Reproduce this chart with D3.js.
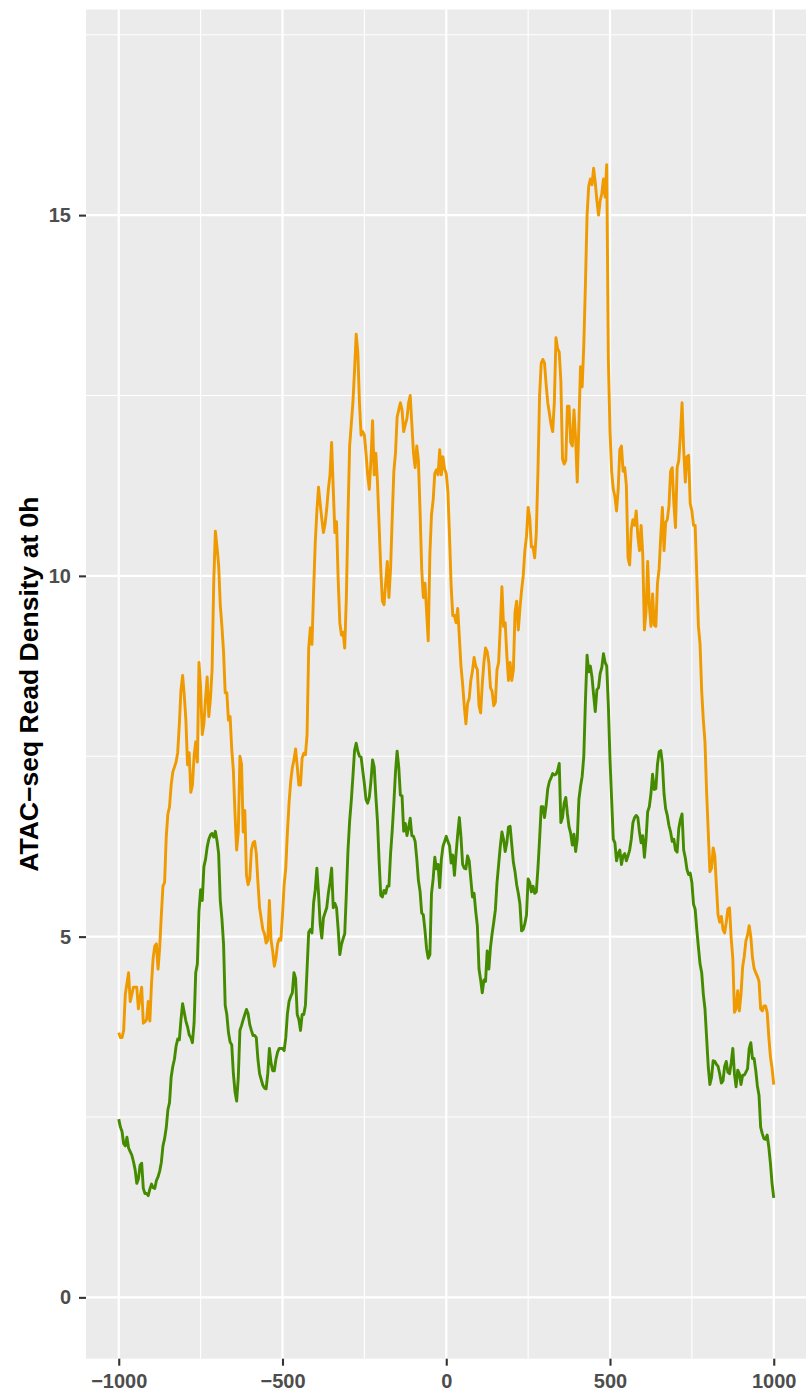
<!DOCTYPE html>
<html>
<head>
<meta charset="utf-8">
<script src="https://cdnjs.cloudflare.com/ajax/libs/d3/7.8.5/d3.min.js"></script>
<style>
  body { margin: 0; background: #fff; }
  text { font-family: "Liberation Sans", Arial, sans-serif; }
</style>
</head>
<body>
<div class="canvas"></div>
<script>
// positions along the x axis (bp from centre), one every 5
const positions = d3.range(-1000, 1001, 5);

// orange series (rows of 10, starting at -1000)
const orangeSeries = [
  3.67, 3.6, 3.6, 3.7, 4.2, 4.35, 4.5, 4.1, 4.2, 4.3,
  4.3, 4.3, 4.0, 4.15, 4.3, 3.8, 3.82, 3.85, 4.1, 3.83,
  4.35, 4.7, 4.87, 4.9, 4.55, 4.85, 5.3, 5.7, 5.75, 6.38,
  6.7, 6.8, 7.1, 7.28, 7.35, 7.42, 7.55, 7.95, 8.42, 8.62,
  8.35, 8.0, 7.38, 7.55, 7.0, 7.1, 7.5, 7.7, 7.42, 8.8,
  8.45, 7.8, 7.95, 8.3, 8.6, 8.05, 8.3, 8.7, 9.9, 10.62,
  10.4, 10.15, 9.6, 9.3, 8.95, 8.38, 8.38, 8.0, 8.05, 7.6,
  7.3, 6.7, 6.2, 6.45, 7.5, 7.39, 6.45, 6.75, 5.85, 5.72,
  5.8, 6.2, 6.3, 6.32, 6.15, 5.75, 5.4, 5.25, 5.1, 5.04,
  4.91, 4.95, 5.5, 4.95, 4.8, 4.59, 4.7, 4.9, 4.97, 4.95,
  5.3, 5.72, 5.95, 6.45, 6.85, 7.15, 7.34, 7.45, 7.6, 7.36,
  7.1, 7.1, 7.48, 7.54, 7.52, 7.8, 9.0, 9.28, 9.05, 9.8,
  10.46, 10.9, 11.23, 11.0, 10.79, 10.6, 10.72, 10.93, 11.2, 11.4,
  11.85, 11.2, 10.6, 10.75, 9.95, 9.35, 9.18, 9.22, 9.0, 9.7,
  10.85, 11.8, 12.1, 12.4, 12.85, 13.35, 13.1, 12.4, 11.95, 12.0,
  11.95, 11.7, 11.4, 11.2, 11.6, 12.15, 11.4, 11.7, 11.3, 10.7,
  10.1, 9.65, 9.6, 9.9, 10.2, 9.7, 10.1, 10.8, 11.45, 11.7,
  12.2, 12.3, 12.4, 12.3, 12.0, 12.1, 12.18, 12.4, 12.5, 12.1,
  11.7, 11.5, 11.8, 11.6, 10.9, 10.1, 9.7, 9.9, 9.5, 9.1,
  10.3, 10.85, 11.05, 11.42, 11.47, 11.4, 11.75, 11.4, 11.65, 11.48,
  11.42, 11.17, 10.55, 9.85, 9.45, 9.45, 9.35, 9.55, 9.15, 8.75,
  8.5, 8.2, 7.95, 8.23, 8.3, 8.55, 8.68, 8.87, 8.75, 8.7,
  8.2, 8.1, 8.5, 8.8, 9.0, 8.95, 8.8, 8.45, 8.4, 8.2,
  8.25, 8.7, 8.8, 9.3, 9.85, 9.3, 9.35, 8.9, 8.55, 8.8,
  8.55, 8.7, 9.5, 9.65, 9.25, 9.55, 9.8, 10.0, 10.35, 10.55,
  10.95, 10.8, 10.4, 10.4, 10.25, 10.6, 11.45, 12.5, 12.95, 13.0,
  12.95, 12.65, 12.4, 12.25, 12.1, 12.0, 12.4, 13.3, 13.15, 13.1,
  12.7, 11.62, 11.55, 11.6, 12.35, 12.35, 11.85, 11.8, 12.3, 11.9,
  11.3, 12.1, 12.9, 12.62, 13.2, 14.05, 15.0, 15.4, 15.5, 15.42,
  15.65, 15.45, 15.2, 15.0, 15.2, 15.3, 15.5, 15.25, 15.7, 13.0,
  12.0, 11.45, 11.2, 11.1, 10.9, 11.2, 11.75, 11.8, 11.45, 11.5,
  11.25, 10.25, 10.15, 10.65, 10.78, 10.7, 10.9, 10.55, 10.35, 10.7,
  10.3, 9.25, 9.5, 10.2, 9.6, 9.3, 9.75, 9.32, 9.3, 9.9,
  10.1, 10.55, 10.95, 10.35, 10.74, 10.78, 10.97, 11.45, 11.5, 11.0,
  10.67, 11.5, 11.6, 11.95, 12.4, 11.75, 11.3, 11.65, 11.67, 11.0,
  10.9, 10.7, 10.7, 10.0, 9.3, 9.05, 8.4, 8.0, 7.7, 7.0,
  6.45, 5.9, 5.95, 6.23, 6.12, 5.7, 5.3, 5.2, 5.28, 5.1,
  5.05, 5.2, 5.38, 5.4, 4.98, 4.7, 3.95, 4.0, 4.25, 3.97,
  4.2, 4.58, 4.73, 4.94, 5.02, 5.15, 5.0, 4.71, 4.56, 4.5,
  4.45, 4.38, 4.0, 3.97, 4.04, 4.04, 3.95, 3.6, 3.33, 3.17,
  2.95
];

// green series (rows of 10, starting at -1000)
const greenSeries = [
  2.47, 2.36, 2.3, 2.13, 2.1, 2.22, 2.07, 2.02, 1.97, 1.88,
  1.77, 1.58, 1.64, 1.83, 1.86, 1.51, 1.44, 1.44, 1.41, 1.5,
  1.57, 1.52, 1.51, 1.62, 1.67, 1.75, 1.87, 2.1, 2.2, 2.35,
  2.6, 2.7, 3.05, 3.2, 3.3, 3.48, 3.58, 3.57, 3.85, 4.07,
  3.95, 3.83, 3.75, 3.64, 3.6, 3.53, 3.8, 4.5, 4.62, 5.35,
  5.65, 5.5, 5.97, 6.07, 6.24, 6.35, 6.41, 6.43, 6.38, 6.46,
  6.33, 6.15, 5.5, 5.25, 4.9, 4.05, 3.92, 3.67, 3.54, 3.5,
  3.1, 2.85, 2.72, 3.05, 3.7, 3.77, 3.85, 3.92, 3.99, 3.93,
  3.78, 3.7, 3.63, 3.63, 3.6, 3.3, 3.1, 3.02, 2.94, 2.9,
  2.89, 3.1, 3.45, 3.25, 3.14, 3.14, 3.3, 3.4, 3.45, 3.45,
  3.45, 3.42, 3.6, 3.93, 4.1, 4.17, 4.22, 4.5, 4.42, 3.92,
  3.85, 3.7, 3.92, 3.92, 4.05, 4.55, 5.06, 5.1, 5.05, 5.47,
  5.65, 5.95, 5.6, 5.17, 4.98, 5.26, 5.33, 5.4, 5.6, 5.75,
  5.95, 5.4, 5.46, 5.4, 5.1, 4.75, 4.89, 4.97, 5.04, 5.6,
  6.2, 6.6, 6.88, 7.22, 7.58, 7.68, 7.57, 7.5, 7.49, 7.3,
  7.12, 6.9, 6.85, 6.93, 7.15, 7.45, 7.35, 6.95, 6.6, 6.05,
  5.57, 5.55, 5.64, 5.6, 5.7, 5.7, 6.15, 6.47, 6.85, 7.28,
  7.57, 7.35, 6.96, 6.95, 6.46, 6.57, 6.4, 6.51, 6.64, 6.4,
  6.39, 6.32, 6.08, 5.78, 5.63, 5.33, 5.3, 5.09, 4.83, 4.7,
  4.75, 5.6, 5.8, 6.1, 5.94, 6.0, 5.68, 6.07, 6.25, 6.32,
  6.39, 6.32, 6.26, 6.02, 6.13, 5.85, 6.15, 6.42, 6.65, 6.38,
  6.0, 5.95, 5.94, 6.12, 6.05, 5.8, 5.55, 5.6, 5.35, 5.15,
  4.55, 4.4, 4.22, 4.4, 4.38, 4.8, 4.55, 4.85, 5.04, 5.2,
  5.37, 5.75, 6.0, 6.25, 6.45, 6.35, 6.18, 6.3, 6.52, 6.53,
  6.28, 6.03, 5.9, 5.72, 5.6, 5.45, 5.08, 5.1, 5.18, 5.3,
  5.8, 5.75, 5.62, 5.7, 5.6, 5.62, 5.95, 6.35, 6.8, 6.8,
  6.65, 6.82, 7.05, 7.15, 7.2, 7.26, 7.24, 7.25, 7.3, 7.4,
  6.58, 6.65, 6.85, 6.93, 6.7, 6.52, 6.43, 6.27, 6.42, 6.18,
  6.35, 6.9, 7.08, 7.22, 7.5, 8.27, 8.9, 8.67, 8.75, 8.6,
  8.35, 8.12, 8.42, 8.45, 8.65, 8.73, 8.92, 8.8, 8.75, 8.2,
  7.45, 6.9, 6.35, 6.3, 6.05, 6.15, 6.2, 6.0, 6.12, 6.15,
  6.05, 6.12, 6.2, 6.35, 6.58, 6.65, 6.68, 6.65, 6.45, 6.3,
  6.4, 6.1, 6.35, 6.73, 6.8, 6.98, 7.25, 7.04, 7.05, 7.39,
  7.56, 7.58, 7.4, 6.98, 6.77, 6.68, 6.54, 6.45, 6.32, 6.35,
  6.2, 6.17, 6.5, 6.62, 6.7, 6.2, 6.09, 5.93, 5.86, 5.88,
  5.75, 5.45, 5.38, 5.1, 4.85, 4.62, 4.5, 4.2, 4.0, 3.6,
  3.2, 2.95, 3.05, 3.28, 3.27, 3.23, 3.2, 3.1, 2.97, 3.0,
  3.2, 3.27, 3.12, 3.1, 3.25, 3.45, 3.1, 2.92, 3.15, 3.1,
  2.95, 3.08, 3.08, 3.12, 3.17, 3.45, 3.53, 3.31, 3.31, 3.15,
  2.93, 2.8, 2.36, 2.27, 2.2, 2.19, 2.25, 2.08, 1.85, 1.57,
  1.38
];

const xTicks = [-1000, -500, 0, 500, 1000];
const xMinor = [-750, -250, 250, 750];
const yTicks = [0, 5, 10, 15];
const yMinor = [2.5, 7.5, 12.5, 17.5];
const yTitle = 'ATAC\u2212seq Read Density at 0h';

const dims = {width: 806, height: 1396};
const panel = {left: 86, right: 806.5, top: 9.5, bottom: 1358.7};

const svg = d3.select('.canvas')
.append('svg')
.attr('width', dims.width)
.attr('height', dims.height);

const x = d3.scaleLinear()
.domain([-1100, 1100])
.range([panel.left, panel.right]);

const y = d3.scaleLinear()
.domain([-0.85, 17.85])
.range([panel.bottom, panel.top]);

// panel background
svg.append('rect')
.attr('x', panel.left)
.attr('y', panel.top)
.attr('width', panel.right - panel.left)
.attr('height', panel.bottom - panel.top)
.attr('fill', '#EBEBEB');

const grid = svg.append('g');

// minor grid
grid.selectAll('.vminor').data(xMinor).enter()
.append('line')
.attr('x1', d => x(d)).attr('x2', d => x(d))
.attr('y1', panel.top).attr('y2', panel.bottom)
.attr('stroke', '#fff').attr('stroke-width', 1.1);

grid.selectAll('.hminor').data(yMinor).enter()
.append('line')
.attr('y1', d => y(d)).attr('y2', d => y(d))
.attr('x1', panel.left).attr('x2', panel.right)
.attr('stroke', '#fff').attr('stroke-width', 1.1);

// major grid
grid.selectAll('.vmajor').data(xTicks).enter()
.append('line')
.attr('x1', d => x(d)).attr('x2', d => x(d))
.attr('y1', panel.top).attr('y2', panel.bottom)
.attr('stroke', '#fff').attr('stroke-width', 2.2);

grid.selectAll('.hmajor').data(yTicks).enter()
.append('line')
.attr('y1', d => y(d)).attr('y2', d => y(d))
.attr('x1', panel.left).attr('x2', panel.right)
.attr('stroke', '#fff').attr('stroke-width', 2.2);

// lines
const line = d3.line()
.x((d, i) => x(positions[i]))
.y(d => y(d));

svg.append('path')
.datum(orangeSeries)
.attr('fill', 'none')
.attr('stroke', '#EE9A00')
.attr('stroke-width', 2.9)
.attr('stroke-linejoin', 'round')
.attr('d', line);

svg.append('path')
.datum(greenSeries)
.attr('fill', 'none')
.attr('stroke', '#458B00')
.attr('stroke-width', 2.9)
.attr('stroke-linejoin', 'round')
.attr('d', line);

// axes
const xAxis = svg.append('g')
.attr('transform', `translate(0, ${panel.bottom})`)
.call(d3.axisBottom(x).tickValues(xTicks).tickSize(7).tickPadding(8)
  .tickFormat(d => d3.format('')(d).replace('-', '\u2212')));

const yAxis = svg.append('g')
.attr('transform', `translate(${panel.left}, 0)`)
.call(d3.axisLeft(y).tickValues(yTicks).tickSize(7).tickPadding(8));

[xAxis, yAxis].forEach(ax => {
  ax.select('.domain').remove();
  ax.selectAll('.tick line').attr('stroke', '#333').attr('stroke-width', 2.1);
  ax.selectAll('.tick text')
  .attr('fill', '#4D4D4D')
  .style('font-size', '20px')
  .style('font-weight', 'bold')
  .style('font-family', '"Liberation Sans", Arial, sans-serif');
});

// y axis title
svg.append('text')
.attr('transform', `translate(38, ${(panel.top + panel.bottom) / 2}) rotate(-90)`)
.attr('text-anchor', 'middle')
.attr('fill', '#000')
.style('font-size', '26.5px')
.style('font-weight', 'bold')
.text(yTitle);
</script>
</body>
</html>
